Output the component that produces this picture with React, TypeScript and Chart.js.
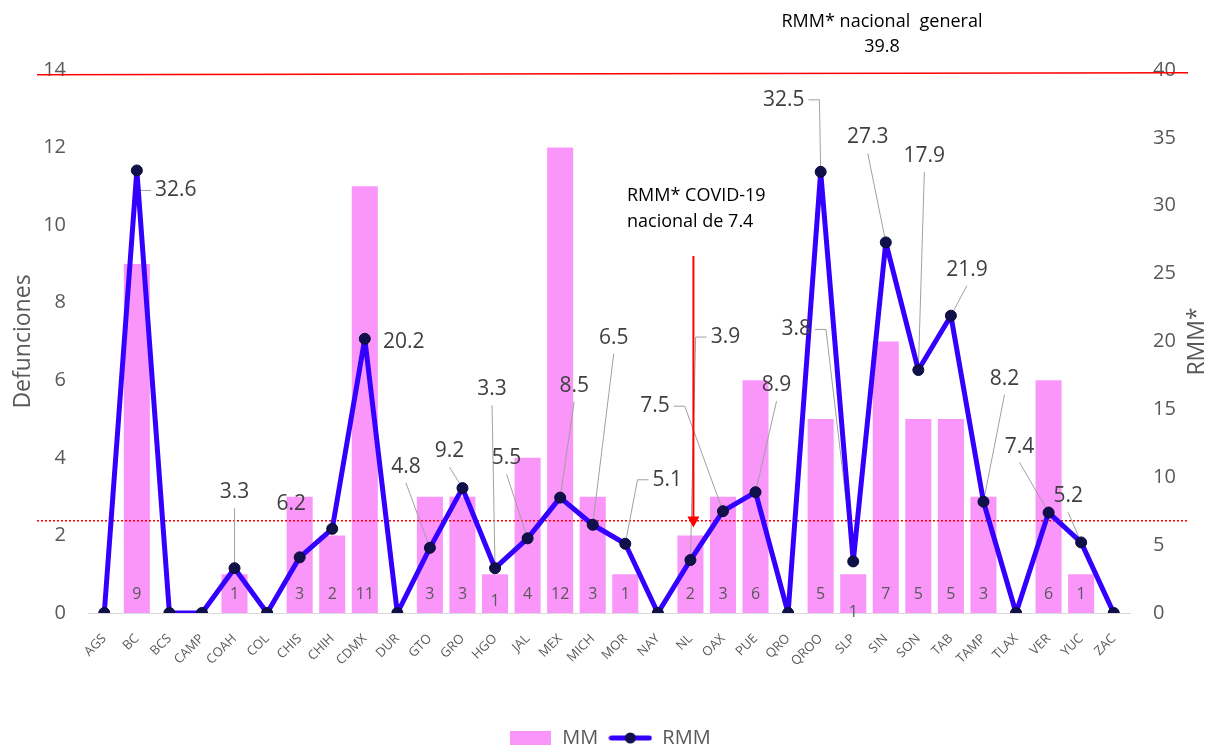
import React, { useEffect, useRef } from 'react';
import { Chart, registerables } from 'chart.js';

Chart.register(...registerables);

const FONT = "'Open Sans', 'Noto Sans', sans-serif";

// ---------- data ----------
const categories = ['AGS', 'BC', 'BCS', 'CAMP', 'COAH', 'COL', 'CHIS', 'CHIH', 'CDMX', 'DUR', 'GTO', 'GRO', 'HGO', 'JAL', 'MEX', 'MICH', 'MOR', 'NAY', 'NL', 'OAX', 'PUE', 'QRO', 'QROO', 'SLP', 'SIN', 'SON', 'TAB', 'TAMP', 'TLAX', 'VER', 'YUC', 'ZAC'];
const mmValues = [0, 9, 0, 0, 1, 0, 3, 2, 11, 0, 3, 3, 1, 4, 12, 3, 1, 0, 2, 3, 6, 0, 5, 1, 7, 5, 5, 3, 0, 6, 1, 0];
const rmmValues = [0, 32.6, 0, 0, 3.3, 0, 4.1, 6.2, 20.2, 0, 4.8, 9.2, 3.3, 5.5, 8.5, 6.5, 5.1, 0, 3.9, 7.5, 8.9, 0, 32.5, 3.8, 27.3, 17.9, 21.9, 8.2, 0, 7.4, 5.2, 0];

const leftAxis = { min: 0, max: 14, step: 2, title: 'Defunciones' };
const rightAxis = { min: 0, max: 40, step: 5, title: 'RMM*' };

const rmmNacionalGeneral = 39.8;
const rmmCovidLine = 6.8;
const arrowFrom = 26.3;
const arrowTo = 6.3;
const arrowCategory = 'NL';

const textGeneral = ['RMM* nacional  general', '39.8'];
const textCovid = ['RMM* COVID-19', 'nacional de 7.4'];

// label placement for the RMM line labels (layout only)
const rmmLabels = [
  { cat: 'BC', dx: 39, dy: 20, leader: 'left' },
  { cat: 'COAH', dx: 0, dy: -76, leader: 'bottom' },
  { cat: 'CHIH', dx: -41, dy: -25, leader: 'none' },
  { cat: 'CDMX', dx: 39, dy: 3, leader: 'none' },
  { cat: 'GTO', dx: -24, dy: -81, leader: 'bottom' },
  { cat: 'GRO', dx: -13, dy: -37, leader: 'bottom' },
  { cat: 'HGO', dx: -3, dy: -179, leader: 'bottom' },
  { cat: 'JAL', dx: -21, dy: -80, leader: 'bottom' },
  { cat: 'MEX', dx: 14, dy: -112, leader: 'bottom' },
  { cat: 'MICH', dx: 21, dy: -187, leader: 'bottom' },
  { cat: 'MOR', dx: 42, dy: -64, leader: 'left' },
  { cat: 'NL', dx: 35, dy: -223, leader: 'left' },
  { cat: 'OAX', dx: -68, dy: -105, leader: 'right' },
  { cat: 'PUE', dx: 21, dy: -107, leader: 'bottom' },
  { cat: 'QROO', dx: -37, dy: -72, leader: 'right' },
  { cat: 'SLP', dx: -57, dy: -232, leader: 'right' },
  { cat: 'SIN', dx: -18, dy: -105, leader: 'bottom' },
  { cat: 'SON', dx: 6, dy: -214, leader: 'bottom' },
  { cat: 'TAB', dx: 16, dy: -46, leader: 'bottom' },
  { cat: 'TAMP', dx: 21, dy: -123, leader: 'bottom' },
  { cat: 'VER', dx: -29, dy: -66, leader: 'bottom' },
  { cat: 'YUC', dx: -13, dy: -46, leader: 'bottom' },
];
const barLabelShift: Record<string, number> = { HGO: 7, SLP: 18 };

const PINK = '#fa96fa';
const BLUE = '#3300ff';
const NAVY = '#10104a';
const GREY = '#595959';

const overlayPlugin = {
  id: 'overlay',
  beforeDatasetDraw(chart: any, args: any) {
    if (args.index !== 1) return;
    const { ctx, chartArea, scales } = chart;
    const xs = scales.x;
    const ys = scales.y1;
    ctx.save();
    // dotted national COVID line
    const yd = ys.getPixelForValue(rmmCovidLine);
    ctx.strokeStyle = '#ff0000';
    ctx.lineWidth = 1.5;
    ctx.setLineDash([2, 2]);
    ctx.beginPath();
    ctx.moveTo(chartArea.left - 51, yd);
    ctx.lineTo(chartArea.right + 58, yd);
    ctx.stroke();
    ctx.setLineDash([]);
    // leader lines
    ctx.font = `21px ${FONT}`;
    ctx.strokeStyle = '#a0a0a0';
    ctx.lineWidth = 1;
    for (const lab of rmmLabels) {
      const i = categories.indexOf(lab.cat);
      const px = xs.getPixelForValue(i);
      const py = ys.getPixelForValue(rmmValues[i]);
      const cx = px + lab.dx;
      const cy = py + lab.dy;
      const w = ctx.measureText(rmmValues[i].toFixed(1)).width;
      if (lab.leader === 'none') continue;
      ctx.beginPath();
      if (lab.leader === 'bottom') {
        ctx.moveTo(cx, cy + 16);
        ctx.lineTo(px, py);
      } else if (lab.leader === 'left') {
        ctx.moveTo(cx - w / 2 - 4, cy);
        ctx.lineTo(cx - w / 2 - 15, cy);
        ctx.lineTo(px, py);
      } else {
        ctx.moveTo(cx + w / 2 + 4, cy);
        ctx.lineTo(cx + w / 2 + 15, cy);
        ctx.lineTo(px, py);
      }
      ctx.stroke();
    }
    ctx.restore();
  },
  afterDatasetsDraw(chart: any) {
    const { ctx, scales } = chart;
    const xs = scales.x;
    const ys = scales.y1;
    const yl = scales.y;
    ctx.save();
    // bar value labels
    ctx.font = `16px ${FONT}`;
    ctx.fillStyle = GREY;
    ctx.textAlign = 'center';
    ctx.textBaseline = 'middle';
    const base = yl.getPixelForValue(0);
    mmValues.forEach((v, i) => {
      if (!v) return;
      const shift = barLabelShift[categories[i]] || 0;
      ctx.fillText(String(v), xs.getPixelForValue(i), base - 19 + shift);
    });
    // RMM labels
    ctx.font = `21px ${FONT}`;
    ctx.fillStyle = '#404040';
    for (const lab of rmmLabels) {
      const i = categories.indexOf(lab.cat);
      const px = xs.getPixelForValue(i);
      const py = ys.getPixelForValue(rmmValues[i]);
      ctx.fillText(rmmValues[i].toFixed(1), px + lab.dx, py + lab.dy);
    }
    ctx.restore();
  },
  afterDraw(chart: any) {
    const { ctx, chartArea, scales, width } = chart;
    const xs = scales.x;
    const ys = scales.y1;
    ctx.save();
    // national general line
    const yt = ys.getPixelForValue(rmmNacionalGeneral);
    ctx.strokeStyle = '#ff0000';
    ctx.lineWidth = 1.5;
    ctx.beginPath();
    ctx.moveTo(chartArea.left - 51, yt + 2);
    ctx.lineTo(chartArea.right + 58, yt);
    ctx.stroke();
    // arrow
    const ax = xs.getPixelForValue(categories.indexOf(arrowCategory)) + 3;
    const a0 = ys.getPixelForValue(arrowFrom);
    const a1 = ys.getPixelForValue(arrowTo);
    ctx.lineWidth = 2;
    ctx.beginPath();
    ctx.moveTo(ax, a0);
    ctx.lineTo(ax, a1 - 8);
    ctx.stroke();
    ctx.fillStyle = '#ff0000';
    ctx.beginPath();
    ctx.moveTo(ax - 6, a1 - 11);
    ctx.lineTo(ax + 6, a1 - 11);
    ctx.lineTo(ax, a1);
    ctx.closePath();
    ctx.fill();
    // right axis title (reads bottom to top)
    ctx.save();
    ctx.translate(width - 13, (chartArea.top + chartArea.bottom) / 2);
    ctx.rotate(-Math.PI / 2);
    ctx.fillStyle = GREY;
    ctx.font = `23px ${FONT}`;
    ctx.textAlign = 'center';
    ctx.textBaseline = 'middle';
    ctx.fillText(rightAxis.title, 0, 0);
    ctx.restore();
    // annotation texts
    ctx.fillStyle = '#000000';
    ctx.font = `18px ${FONT}`;
    ctx.textBaseline = 'middle';
    ctx.textAlign = 'center';
    ctx.fillText(textGeneral[0], 882, 22);
    ctx.fillText(textGeneral[1], 882, 47);
    ctx.textAlign = 'left';
    ctx.fillText(textCovid[0], 627, 196);
    ctx.fillText(textCovid[1], 627, 222);
    ctx.restore();
  },
};

export default function App() {
  const ref = useRef<HTMLCanvasElement>(null);

  useEffect(() => {
    document.body.style.margin = '0';
    const canvas = ref.current;
    if (!canvas) return;

    const mmImg = document.createElement('canvas');
    mmImg.width = 41;
    mmImg.height = 14;
    const c1 = mmImg.getContext('2d')!;
    c1.fillStyle = PINK;
    c1.fillRect(0, 0, 41, 14);

    const rmmImg = document.createElement('canvas');
    rmmImg.width = 44;
    rmmImg.height = 14;
    const c2 = rmmImg.getContext('2d')!;
    c2.strokeStyle = BLUE;
    c2.lineWidth = 5;
    c2.lineCap = 'round';
    c2.beginPath();
    c2.moveTo(3, 7);
    c2.lineTo(41, 7);
    c2.stroke();
    c2.fillStyle = NAVY;
    c2.beginPath();
    c2.arc(22, 7, 5.5, 0, Math.PI * 2);
    c2.fill();

    const chart = new Chart(canvas, {
      type: 'bar',
      data: {
        labels: categories,
        datasets: [
          {
            type: 'bar',
            label: 'MM',
            data: mmValues,
            backgroundColor: PINK,
            yAxisID: 'y',
            barPercentage: 0.8,
            categoryPercentage: 1,
            order: 2,
          },
          {
            type: 'line',
            label: 'RMM',
            data: rmmValues,
            borderColor: BLUE,
            borderWidth: 5,
            borderJoinStyle: 'round',
            pointRadius: 5.5,
            pointBackgroundColor: NAVY,
            pointBorderColor: '#0a0a3a',
            pointBorderWidth: 1,
            tension: 0,
            yAxisID: 'y1',
            order: 1,
          } as any,
        ],
      },
      options: {
        animation: false,
        responsive: true,
        maintainAspectRatio: false,
        layout: { padding: { left: 10, right: 1, top: 70, bottom: -10 } },
        plugins: {
          tooltip: { enabled: false },
          legend: {
            position: 'bottom',
            labels: {
              usePointStyle: true,
              pointStyleWidth: 44,
              boxHeight: 14,
              padding: 10,
              color: GREY,
              font: { size: 20, family: FONT },
              generateLabels: () => [
                { text: 'MM', pointStyle: mmImg as any, fillStyle: PINK, strokeStyle: PINK, lineWidth: 0, hidden: false, datasetIndex: 0, fontColor: GREY },
                { text: 'RMM', pointStyle: rmmImg as any, fillStyle: BLUE, strokeStyle: BLUE, lineWidth: 0, hidden: false, datasetIndex: 1, fontColor: GREY },
              ],
            },
          },
        },
        scales: {
          x: {
            grid: { display: false, drawTicks: false },
            border: { display: true, color: '#d9d9d9', width: 1 },
            ticks: {
              autoSkip: false,
              minRotation: 45,
              maxRotation: 45,
              padding: 18,
              color: GREY,
              font: { size: 13, family: FONT },
            },
            afterFit: (s: any) => { s.height = 105; },
          },
          y: {
            position: 'left',
            min: leftAxis.min,
            max: leftAxis.max,
            grid: { display: false, drawTicks: false },
            border: { display: false },
            ticks: { stepSize: leftAxis.step, padding: 22, color: GREY, font: { size: 20, family: FONT } },
            title: { display: true, text: leftAxis.title, color: GREY, padding: 0, font: { size: 23, family: FONT } },
            afterFit: (s: any) => { s.width = 78; },
          },
          y1: {
            position: 'right',
            min: rightAxis.min,
            max: rightAxis.max,
            grid: { display: false, drawTicks: false },
            border: { display: false },
            ticks: { stepSize: rightAxis.step, padding: 23, color: GREY, font: { size: 20, family: FONT } },
            afterFit: (s: any) => { s.width = 79; },
          },
        },
      },
      plugins: [overlayPlugin],
    });
    return () => chart.destroy();
  }, []);

  return (
    <div style={{ width: 1210, height: 748, position: 'relative' }}>
      <canvas ref={ref} />
    </div>
  );
}
